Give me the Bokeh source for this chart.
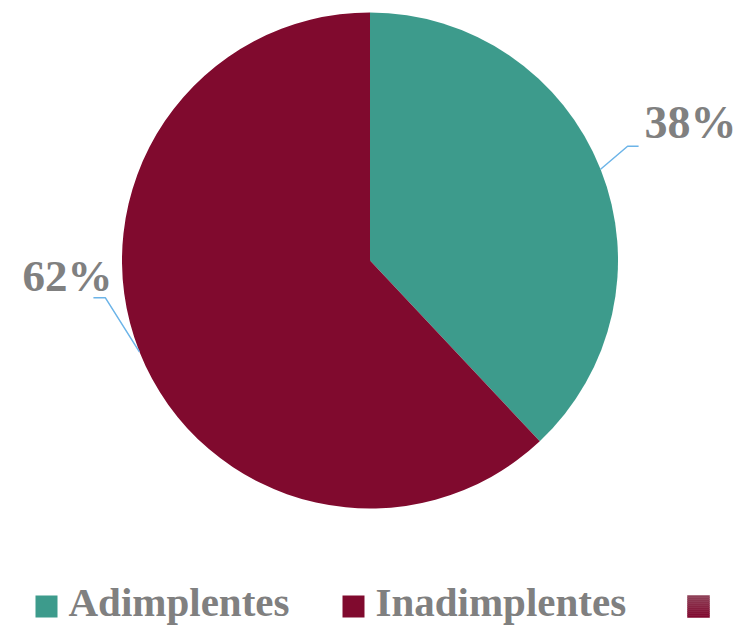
import math
from bokeh.plotting import figure
from bokeh.models import ColumnDataSource, Range1d
from bokeh.core.properties import value
from bokeh.embed import file_html
from bokeh.resources import INLINE

# ---- data ----
categories = ["Adimplentes", "Inadimplentes", ""]
values = [38, 62, 0]
colors = ["#3d9b8c", "#800a2e", "#800a2e"]
pct_labels = ["38%", "62%"]

W, H = 740, 625
FONT = value("Liberation Serif")
GRAY = "#808080"

p = figure(width=W, height=H, output_backend="svg", toolbar_location=None,
           x_range=Range1d(0, W), y_range=Range1d(0, H),
           min_border=0, outline_line_color=None)
p.axis.visible = False
p.grid.visible = False
p.background_fill_color = "white"
p.border_fill_color = "white"

# page coords -> data coords
def px(x):
    return x
def py(y):
    return H - y

cx, cy, r = px(369.5), py(260), 248

total = sum(values)
starts, ends, mids = [], [], []
a = math.pi / 2
for v in values[:2]:
    sweep = 2 * math.pi * v / total
    starts.append(a)
    ends.append(a - sweep)
    mids.append(a - sweep / 2)
    a -= sweep

src = ColumnDataSource(dict(start=starts, end=ends, color=colors[:2]))
p.wedge(x=cx, y=cy, radius=r, start_angle="start", end_angle="end",
        direction="clock", fill_color="color", line_color=None, source=src)

# leader lines and percentage labels
for i, (m, lab) in enumerate(zip(mids, pct_labels)):
    ex, ey = cx + r * math.cos(m), cy + r * math.sin(m)
    right = math.cos(m) > 0
    dx = 27 if right else -34
    dy = 23 if right else 54
    bx, by = ex + dx, ey + dy
    hx = bx + (11 if right else -12)
    p.line([ex, bx, hx], [ey, by, by], line_color="#6cb4e8", line_width=1.5)
    if right:
        p.text(x=[hx + 6], y=[by - 2], text=[lab], text_font=FONT,
               text_font_size="46px", text_font_style="bold",
               text_color=GRAY, text_align="left", text_baseline="bottom")
    else:
        p.text(x=[hx + 19], y=[by - 3], text=[lab], text_font=FONT,
               text_font_size="45px", text_font_style="bold",
               text_color=GRAY, text_align="right", text_baseline="bottom")

# legend
sq_x = [px(35), px(342), px(687)]
sq = 22
ly = py(606)
for i, (cat, col) in enumerate(zip(categories, colors)):
    if i < 2:
        p.rect(x=[sq_x[i] + sq / 2], y=[ly], width=sq, height=sq,
               fill_color=col, line_color=None)
        p.text(x=[sq_x[i] + sq + 11], y=[py(624)], text=[cat], text_font=FONT,
               text_font_size="41px", text_font_style="bold",
               text_color=GRAY, text_align="left", text_baseline="bottom")
    else:
        # gradient swatch for empty series
        n = 11
        top = (0x8e, 0x40, 0x57)
        bot = (0x80, 0x08, 0x2e)
        for k in range(n):
            t = k / (n - 1)
            c = tuple(int(top[j] + (bot[j] - top[j]) * t) for j in range(3))
            hexc = "#%02x%02x%02x" % c
            yk = ly + sq / 2 - (k + 0.5) * sq / n
            p.rect(x=[sq_x[i] + sq / 2], y=[yk], width=sq, height=sq / n,
                   fill_color=hexc, line_color=hexc, line_width=0.5)

open("out.html", "w").write(file_html(p, INLINE))
